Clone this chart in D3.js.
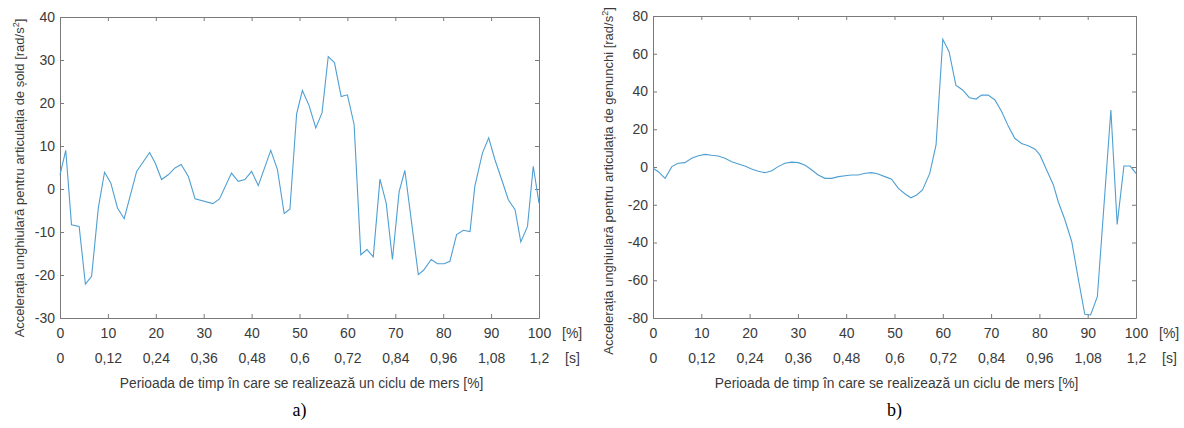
<!DOCTYPE html>
<html>
<head>
<meta charset="utf-8">
<script src="https://cdn.jsdelivr.net/npm/d3@7"></script>
<style>
  body { margin: 0; background: #fff; }
  text { font-family: "Liberation Sans", Arial, sans-serif; }
</style>
</head>
<body>
<svg id="canvas" width="1184" height="428"></svg>
<script>
// shared x axis: percent of gait cycle + matching time row
let percentTicks = [0, 10, 20, 30, 40, 50, 60, 70, 80, 90, 100]
let timeLabels = ["0", "0,12", "0,24", "0,36", "0,48", "0,6", "0,72", "0,84", "0,96", "1,08", "1,2"]

// a) hip angular acceleration
let hipX = [0, 1.2, 2.4, 4.0, 5.3, 6.6, 8.0, 9.3, 10.6, 12.0, 13.4, 16.0, 18.7, 19.9, 21.2, 22.6, 24.0, 25.3,
    26.8, 28.2, 31.9, 33.3, 35.8, 37.2, 38.6, 40.0, 41.4, 44.0, 45.4, 46.8, 48.0, 49.4, 50.6, 52.0, 53.4, 54.7,
    56.0, 57.3, 58.7, 60.0, 61.4, 62.8, 64.1, 65.4, 66.8, 68.1, 69.4, 70.8, 72.0, 74.8, 75.9, 77.5, 78.8, 80.2,
    81.4, 82.8, 84.2, 85.6, 86.6, 88.2, 89.5, 90.8, 92.2, 93.6, 95.0, 96.2, 97.6, 98.8, 100]
let hipY = [3.3, 9.0, -8.3, -8.7, -22.1, -20.3, -4.4, 3.9, 1.4, -4.4, -6.9, 4.1, 8.5, 6.0, 2.2, 3.3, 4.9, 5.7,
    2.9, -2.3, -3.4, -2.3, 3.7, 1.8, 2.2, 4.1, 0.8, 9.0, 4.5, -5.7, -4.7, 17.5, 22.9, 19.4, 14.2, 17.7,
    30.8, 29.4, 21.5, 21.9, 15.0, -15.3, -14.1, -15.8, 2.3, -3.3, -16.4, -0.6, 4.3, -19.9, -18.9, -16.4, -17.4, -17.4,
    -16.8, -10.6, -9.6, -9.9, 0.6, 8.4, 11.9, 6.8, 2.2, -2.5, -4.8, -12.3, -8.7, 5.3, -3.3]
let hipYTicks = [-30, -20, -10, 0, 10, 20, 30, 40]

// b) knee angular acceleration
let kneeX = [0, 1.1, 2.5, 3.9, 5.2, 6.6, 8.0, 9.4, 10.8, 12.1, 13.5, 14.9, 16.3, 17.7, 19.0, 20.4, 21.8, 23.2,
    24.6, 25.9, 27.3, 28.7, 30.1, 31.5, 32.9, 34.2, 35.6, 37.0, 38.4, 39.8, 41.1, 42.5, 43.9, 45.3, 46.6, 48.0,
    49.4, 50.8, 52.2, 53.4, 54.6, 55.8, 57.3, 58.6, 60.0, 61.3, 62.7, 64.1, 65.5, 66.9, 68.0, 69.4, 70.8, 72.2,
    73.6, 74.9, 76.3, 77.7, 79.1, 80.1, 81.5, 82.9, 83.9, 85.3, 86.7, 88.1, 89.4, 90.6, 92.0, 94.8, 96.1, 97.5,
    98.8, 100]
let kneeY = [-0.7, -2.5, -6.0, 0.2, 2.0, 2.3, 4.6, 6.0, 6.7, 6.2, 5.8, 4.6, 2.8, 1.6, 0.5, -1.1, -2.3, -3.0,
    -2.0, 0.2, 2.0, 2.6, 2.3, 0.9, -1.6, -4.2, -6.0, -6.0, -5.1, -4.6, -4.2, -4.2, -3.3, -3.0, -3.7, -5.1,
    -6.5, -11.3, -14.3, -16.3, -14.8, -12.2, -3.4, 11.7, 67.7, 61.1, 43.4, 40.8, 36.7, 36.0, 38.1, 38.1, 35.5, 29.3,
    21.4, 15.2, 12.5, 11.3, 9.4, 6.4, -1.6, -9.5, -18.4, -28.1, -39.6, -59.9, -78.0, -78.4, -68.7, 30.2, -30.4, 0.5,
    0.5, -3.4]
let kneeYTicks = [-80, -60, -40, -20, 0, 20, 40, 60, 80]

let canvas = d3.select("#canvas")
let axisColor = "#7a7a7a"
let textColor = "#3a3a3a"
let lineColor = "#4f9fd3"
let tickFont = "14px"

//Draws one MATLAB-like panel
function drawPanel(p) {
    let x = d3.scaleLinear().domain([0, 100]).range([p.left, p.right])
    let y = d3.scaleLinear().domain(p.yDomain).range([p.bottom, p.top])
    let g = canvas.append("g")

    let styleAxis = (sel) => {
        sel.selectAll("path").attr("stroke", axisColor)
        sel.selectAll("line").attr("stroke", axisColor)
        sel.selectAll("text").attr("fill", textColor).style("font-size", tickFont).style("font-family", null)
    }

    g.append("g").attr("transform", "translate(0," + p.bottom + ")")
        .call(d3.axisBottom(x).tickValues(percentTicks).tickSizeInner(-4).tickSizeOuter(0).tickPadding(10)
            .tickFormat((d) => String(d)))
        .call(styleAxis)
    g.append("g").attr("transform", "translate(0," + (p.bottom + 25) + ")")
        .call(d3.axisBottom(x).tickValues(percentTicks).tickSize(0).tickPadding(10)
            .tickFormat((d, i) => timeLabels[i]))
        .call(styleAxis)
        .call(sel => sel.select(".domain").remove())
    g.append("g").attr("transform", "translate(0," + p.top + ")")
        .call(d3.axisTop(x).tickValues(percentTicks).tickSizeInner(-4).tickSizeOuter(0).tickFormat(""))
        .call(styleAxis)
    g.append("g").attr("transform", "translate(" + p.left + ",0)")
        .call(d3.axisLeft(y).tickValues(p.yTicks).tickSizeInner(-4).tickSizeOuter(0).tickPadding(5)
            .tickFormat((d) => String(d)))
        .call(styleAxis)
    g.append("g").attr("transform", "translate(" + p.right + ",0)")
        .call(d3.axisRight(y).tickValues(p.yTicks).tickSizeInner(-4).tickSizeOuter(0).tickFormat(""))
        .call(styleAxis)

    //Unit labels right of the x tick rows
    g.append("text").attr("x", p.right + 23).attr("y", p.bottom + 20)
        .attr("fill", textColor).style("font-size", tickFont).text("[%]")
    g.append("text").attr("x", p.right + 26).attr("y", p.bottom + 45)
        .attr("fill", textColor).style("font-size", tickFont).text("[s]")

    //Data line
    let line = d3.line().x((d) => x(d[0])).y((d) => y(d[1]))
    g.append("path")
        .datum(d3.zip(p.xs, p.ys))
        .attr("d", line)
        .attr("fill", "none")
        .attr("stroke", lineColor)
        .attr("stroke-width", 1.1)

    //Axis titles
    let cx = (p.left + p.right) / 2
    g.append("text").attr("x", cx + 2).attr("y", p.bottom + 70)
        .attr("text-anchor", "middle").attr("fill", textColor).style("font-size", "13.8px")
        .text("Perioada de timp în care se realizează un ciclu de mers [%]")

    let yt = g.append("text")
        .attr("transform", "translate(" + p.yTitleX + "," + p.yTitleY + ") rotate(-90)")
        .attr("text-anchor", "middle").attr("fill", textColor).style("font-size", "13px")
    yt.append("tspan").text(p.yTitle + " [rad/s")
    yt.append("tspan").attr("dy", -5).style("font-size", "9px").text("2")
    yt.append("tspan").attr("dy", 5).text("]")

    //Panel letter
    g.append("text").attr("x", cx).attr("y", p.bottom + 98)
        .attr("text-anchor", "middle").attr("fill", "#000")
        .style("font-family", "'Liberation Serif', 'Times New Roman', serif").style("font-size", "18px")
        .text(p.letter)
}

drawPanel({
    left: 60, right: 539, top: 17, bottom: 318,
    yDomain: [-30, 40], yTicks: hipYTicks, xs: hipX, ys: hipY,
    yTitle: "Accelerația unghiulară pentru articulația de șold",
    yTitleX: 24, yTitleY: 178, letter: "a)"
})
drawPanel({
    left: 653, right: 1136, top: 16, bottom: 318,
    yDomain: [-80, 80], yTicks: kneeYTicks, xs: kneeX, ys: kneeY,
    yTitle: "Accelerația unghiulară pentru articulația de genunchi",
    yTitleX: 613, yTitleY: 181, letter: "b)"
})
</script>
</body>
</html>
